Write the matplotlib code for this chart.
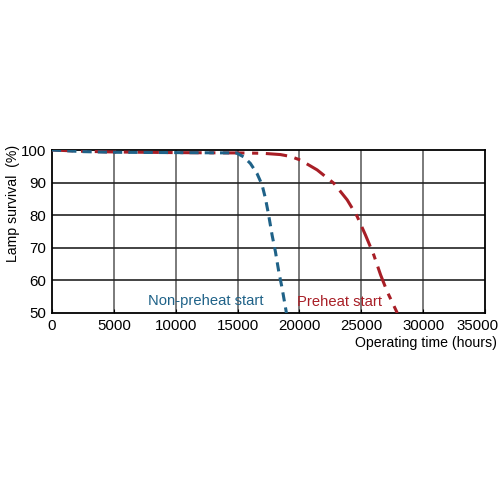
import matplotlib.pyplot as plt
import matplotlib.transforms as mtransforms

plt.rcParams['font.family'] = ['Liberation Sans', 'DejaVu Sans']

# survival curves
hours_non = [0, 2500, 5000, 10000, 14900, 15490, 16030, 16570, 16980, 17250, 17510,
             17790, 18060, 18330, 18600, 18950]
surv_non = [100, 99.5, 99.3, 99.2, 99.1, 97.9, 95.9, 92.8, 89.3, 85.2, 80.1,
            73.9, 68.8, 62.7, 57.6, 50]

hours_pre = [0, 2500, 5000, 10000, 15000, 17000, 18460, 19300, 20080, 21430, 22780,
             23860, 24670, 25340, 26010, 26560, 27100, 27910]
surv_pre = [100, 99.6, 99.4, 99.2, 99.1, 99.0, 98.6, 98.0, 96.9, 93.9, 89.8,
            84.7, 79.6, 73.9, 67.8, 61.7, 56.5, 50]

xticks = [0, 5000, 10000, 15000, 20000, 25000, 30000, 35000]
yticks = [50, 60, 70, 80, 90, 100]

red = '#a81e26'
blue = '#1f6288'

fig = plt.figure(figsize=(5, 5), dpi=100)
ax = fig.add_axes([0.104, 0.374, 0.866, 0.326])

for x in xticks[1:-1]:
    ax.axvline(x, color='#707070', lw=1.3, zorder=1)
for y in yticks[1:-1]:
    ax.axhline(y, color='#222222', lw=1.2, zorder=1)

ax.plot(hours_pre, surv_pre, color=red, lw=2.2, dashes=(7, 2.5, 2, 2.5), zorder=3)
ax.plot(hours_non, surv_non, color=blue, lw=2.2, dashes=(3, 2), zorder=4)

ax.set_xlim(0, 35000)
ax.set_ylim(50, 100)
ax.set_xticks(xticks)
ax.set_yticks(yticks)
ax.tick_params(axis='both', labelsize=10.8, length=3, direction='in', pad=4)
ax.tick_params(axis='y', length=0)
for s in ax.spines.values():
    s.set_color('black')
    s.set_linewidth(1.3)

# last x label sits a bit to the left so it stays inside the figure
last = ax.get_xticklabels()[-1]
last.set_transform(last.get_transform() + mtransforms.ScaledTranslation(-7 / 100, 0, fig.dpi_scale_trans))

ax.text(7800, 52.5, 'Non-preheat start', color=blue, fontsize=10.6)
ax.text(19800, 52, 'Preheat start', color=red, fontsize=10.6)

fig.text(0.026, 0.594, 'Lamp survival  (%)', rotation=90, fontsize=10.2, va='center', ha='center')
fig.text(0.994, 0.314, 'Operating time (hours)', fontsize=10.2, ha='right', va='center')

fig.savefig('out.png', dpi=100)
